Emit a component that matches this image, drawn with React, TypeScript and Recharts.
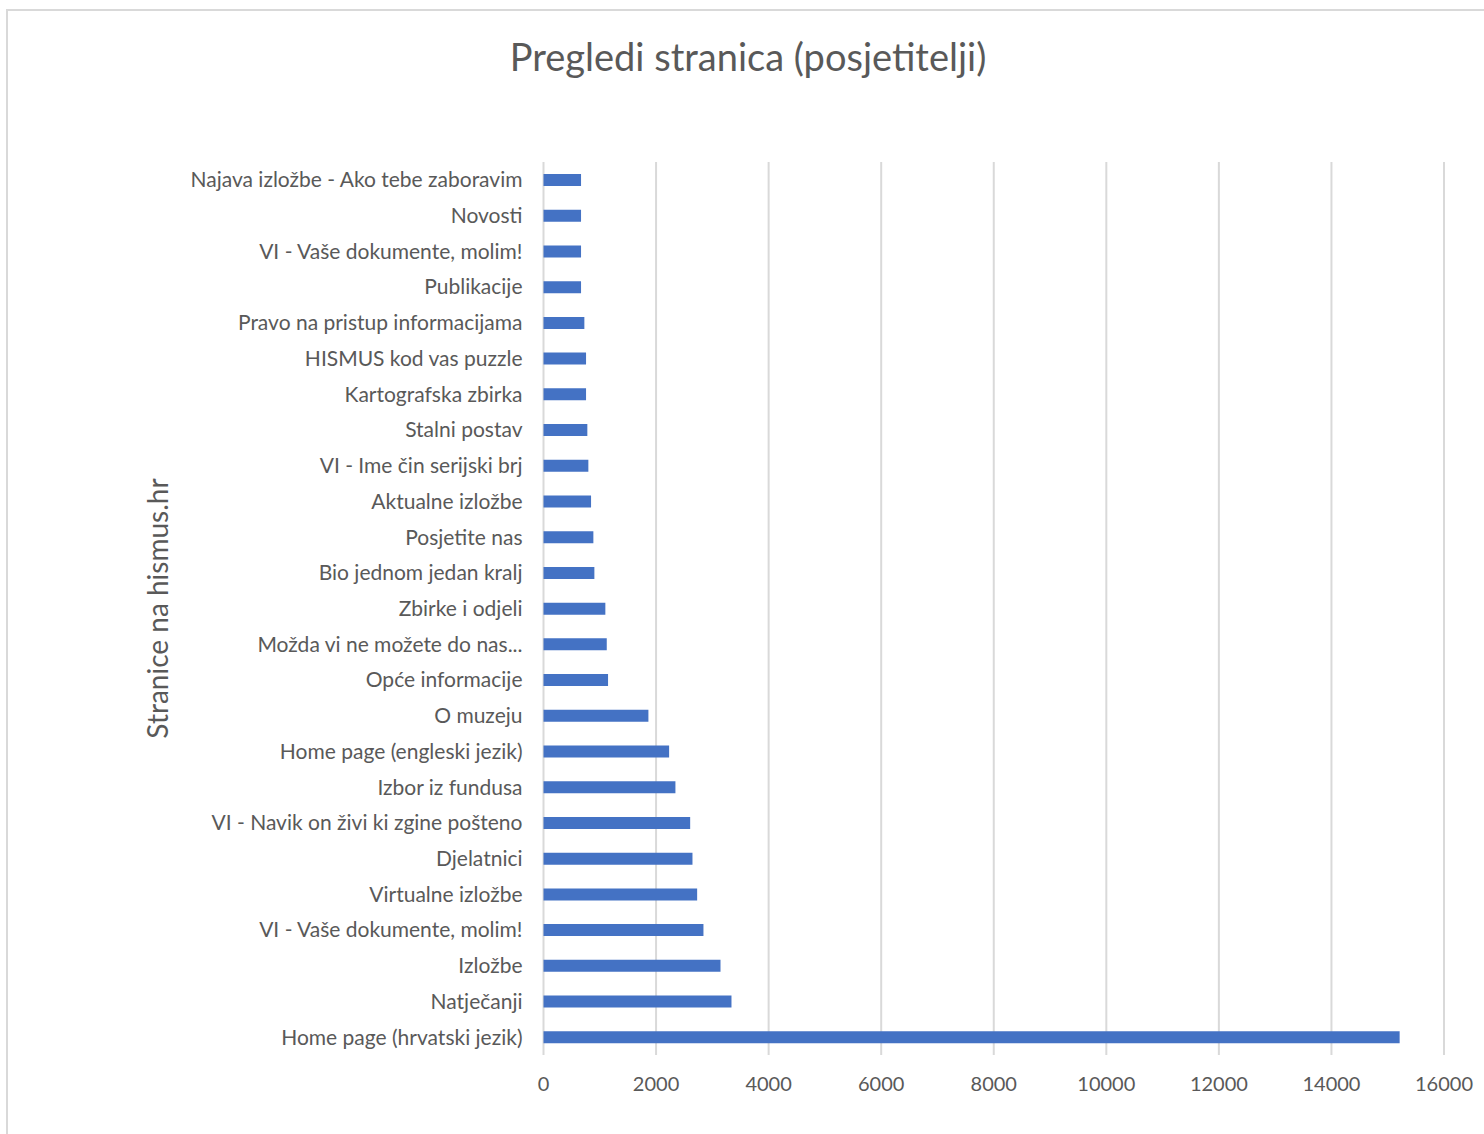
import React from 'react';
import { BarChart, Bar, XAxis, YAxis, CartesianGrid } from 'recharts';

const pages = [
  'Najava izložbe - Ako tebe zaboravim',
  'Novosti',
  'VI - Vaše dokumente, molim!',
  'Publikacije',
  'Pravo na pristup informacijama',
  'HISMUS kod vas puzzle',
  'Kartografska zbirka',
  'Stalni postav',
  'VI - Ime čin serijski brj',
  'Aktualne izložbe',
  'Posjetite nas',
  'Bio jednom jedan kralj',
  'Zbirke i odjeli',
  'Možda vi ne možete do nas...',
  'Opće informacije',
  'O muzeju',
  'Home page (engleski jezik)',
  'Izbor iz fundusa',
  'VI - Navik on živi ki zgine pošteno',
  'Djelatnici',
  'Virtualne izložbe',
  'VI - Vaše dokumente, molim! ',
  'Izložbe',
  'Natječanji',
  'Home page (hrvatski jezik)',
];

const views = [
  667, 667, 667, 667, 726, 756, 756, 779, 797, 845, 886, 904, 1099, 1124, 1147,
  1864, 2232, 2344, 2606, 2647, 2730, 2842, 3145, 3340, 15212,
];

const xTicks = [0, 2000, 4000, 6000, 8000, 10000, 12000, 14000, 16000];

const data = pages.map((name, i) => ({ name, views: views[i] }));

const FONT = 'Lato, "Open Sans", sans-serif';
const GREY = '#595959';

export default function App() {
  return (
    <div style={{ position: 'absolute', left: 0, top: 0, width: 1484, height: 1134, overflow: 'hidden', background: '#fff', fontFamily: FONT }}>
      <div style={{ position: 'absolute', left: 6, top: 9, width: 1520, height: 1160, border: '2px solid #d9d9d9' }} />
      <div style={{ position: 'absolute', left: 0, top: 33, width: 1496, textAlign: 'center', fontSize: 38, color: GREY }}>
        Pregledi stranica (posjetitelji)
      </div>
      <div style={{ position: 'absolute', left: 0, top: 0 }}>
        <BarChart
          width={1484}
          height={1134}
          data={data}
          layout="vertical"
          margin={{ top: 162, right: 40, bottom: 49, left: 0 }}
          barCategoryGap={12}
        >
          <CartesianGrid horizontal={false} stroke="#d9d9d9" strokeWidth={2} verticalValues={xTicks} />
          <XAxis
            type="number"
            domain={[0, 16000]}
            ticks={xTicks}
            axisLine={false}
            tickLine={false}
            tickSize={0}
            tickMargin={22}
            tick={{ fontSize: 20, fill: GREY, fontFamily: FONT }}
            interval={0}
          />
          <YAxis
            type="category"
            dataKey="name"
            width={543.5}
            axisLine={false}
            tickLine={false}
            tickSize={0}
            tickMargin={21}
            interval={0}
            tick={{ fontSize: 21, fill: GREY, fontFamily: FONT }}
            label={{
              value: 'Stranice na hismus.hr',
              angle: -90,
              position: 'insideLeft',
              offset: 158,
              style: { fontSize: 28, fill: GREY, fontFamily: FONT, textAnchor: 'middle' },
            }}
          />
          <Bar dataKey="views" fill="#4472C4" barSize={12} isAnimationActive={false} />
        </BarChart>
      </div>
    </div>
  );
}
